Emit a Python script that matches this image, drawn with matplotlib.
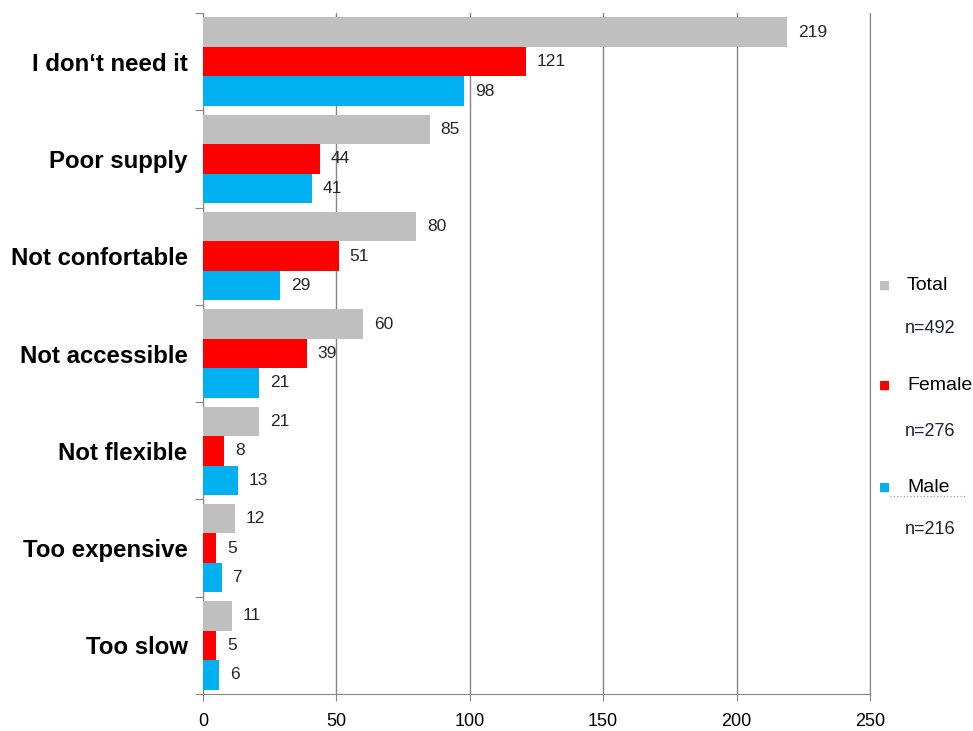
import numpy as np
import matplotlib.pyplot as plt
from matplotlib.lines import Line2D

plt.rcParams['font.family'] = ['Liberation Sans', 'DejaVu Sans']

reasons = ['I don‘t need it', 'Poor supply', 'Not confortable', 'Not accessible',
           'Not flexible', 'Too expensive', 'Too slow']
total = [219, 85, 80, 60, 21, 12, 11]
female = [121, 44, 51, 39, 8, 5, 5]
male = [98, 41, 29, 21, 13, 7, 6]

series = [('Total', 'n=492', total, '#bfbfbf'),
          ('Female', 'n=276', female, '#ff0000'),
          ('Male', 'n=216', male, '#00b0f0')]

fig = plt.figure(figsize=(9.73, 7.31), dpi=100)
ax = fig.add_axes([0.2086, 0.0506, 0.6855, 0.9316])

y = np.arange(len(reasons))
h = 0.303
for i, (name, n, vals, col) in enumerate(series):
    pos = y - h + i * h
    ax.barh(pos, vals, height=h, color=col, zorder=3)
    for p, v in zip(pos, vals):
        ax.text(v + 4, p, str(v), va='center', ha='left', fontsize=12.5, color='#262626')

ax.set_xlim(0, 250)
ax.set_ylim(len(reasons) - 0.5, -0.5)
ax.set_xticks([0, 50, 100, 150, 200, 250])
ax.tick_params(axis='x', labelsize=13, length=5, color='#868686', pad=9)
ax.xaxis.grid(True, color='#868686', linewidth=1, zorder=0)

# category names on minor ticks, boundary ticks on major
ax.set_yticks(np.arange(len(reasons) + 1) - 0.5)
ax.set_yticklabels([])
ax.set_yticks(y, minor=True)
ax.set_yticklabels(reasons, minor=True, fontsize=17.3, fontweight='bold')
ax.tick_params(axis='y', which='major', length=6, color='#868686')
ax.tick_params(axis='y', which='minor', length=0, pad=11)

ax.spines['top'].set_visible(False)
for s in ['left', 'bottom', 'right']:
    ax.spines[s].set_color('#868686')

# legend with sample sizes
leg_y = [285, 385, 487]
n_y = [329, 432, 529]
for (name, n, vals, col), ly, ny in zip(series, leg_y, n_y):
    fig.text(885 / 973, 1 - ly / 731, '■', color=col, fontsize=8.5, ha='center', va='center',
             family='DejaVu Sans')
    fig.text(907 / 973, 1 - ly / 731, name, fontsize=14, ha='left', va='center')
    fig.text(905 / 973, 1 - ny / 731, n, fontsize=13, ha='left', va='center', color='#1f1f3a')

fig.add_artist(Line2D([890 / 973, 966 / 973], [1 - 496 / 731] * 2, color='#9090a8',
                      linewidth=0.8, linestyle=(0, (1, 2)), transform=fig.transFigure))

fig.savefig('out.png', dpi=100)
